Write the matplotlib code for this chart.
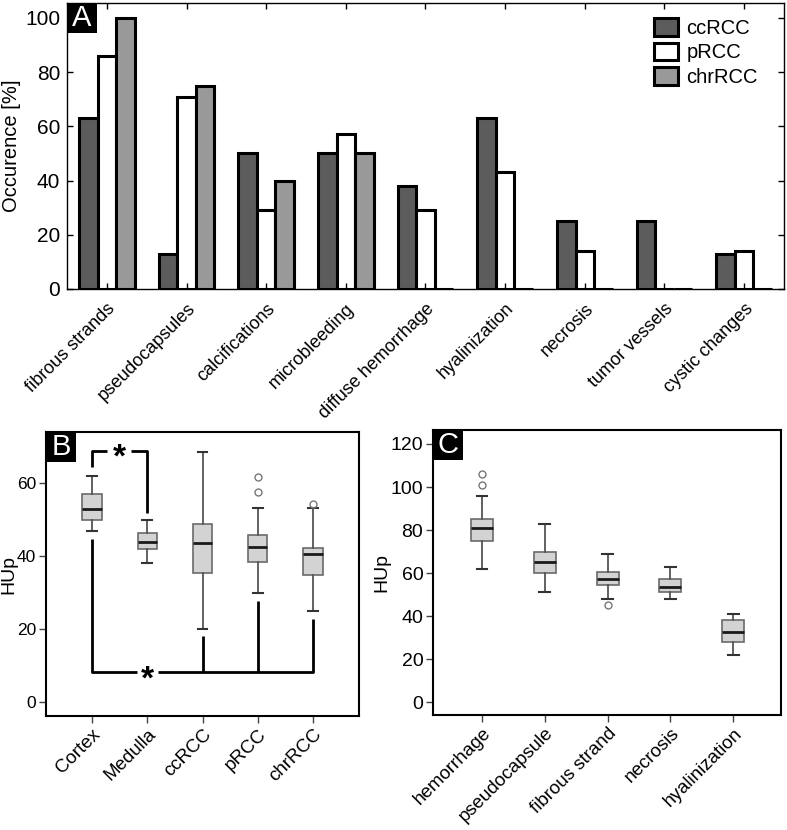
import matplotlib.pyplot as plt
import numpy as np
from matplotlib.patches import Rectangle

plt.rcParams['font.family'] = ['Liberation Sans', 'DejaVu Sans']

# Panel A: occurrence of imaging features [%]
features = ["fibrous strands", "pseudocapsules", "calcifications", "microbleeding",
            "diffuse hemorrhage", "hyalinization", "necrosis", "tumor vessels", "cystic changes"]
occ_ccrcc = [63, 13, 50, 50, 38, 63, 25, 25, 13]
occ_prcc = [86, 71, 29, 57, 29, 43, 14, 0, 14]
occ_chrrcc = [100, 75, 40, 50, 0, 0, 0, 0, 0]

# Panel B: HUp per tissue (whisker low, q1, median, q3, whisker high, outliers)
tissues = ["Cortex", "Medulla", "ccRCC", "pRCC", "chrRCC"]
tis_lo = [47, 38, 20, 30, 25]
tis_q1 = [50, 42, 35.5, 38.4, 34.7]
tis_med = [53, 43.9, 43.7, 42.4, 40.6]
tis_q3 = [57, 46.2, 48.9, 45.8, 42.1]
tis_hi = [62, 50, 68.6, 53.3, 53.3]
tis_out = [[], [], [], [57.7, 61.6], [54.4]]

# Panel C: HUp per finding
findings = ["hemorrhage", "pseudocapsule", "fibrous strand", "necrosis", "hyalinization"]
fnd_lo = [62, 51.1, 47.9, 48, 22.1]
fnd_q1 = [75.1, 60.1, 54.5, 51, 28]
fnd_med = [81.1, 65.1, 57.2, 53.6, 32.6]
fnd_q3 = [85, 69.9, 60.5, 57.1, 38]
fnd_hi = [96, 83, 69, 62.9, 41]
fnd_out = [[101, 106], [], [45.1], [], []]

fig = plt.figure(figsize=(7.87, 8.30), dpi=100)


def panel_label(ax, letter):
    # 30x30 px black square in the upper left corner
    pos = ax.get_position()
    w = 30 / (pos.width * 787)
    h = 30 / (pos.height * 830)
    ax.add_patch(Rectangle((0, 1 - h), w, h, transform=ax.transAxes,
                           facecolor='black', edgecolor='none', zorder=10, clip_on=False))
    ax.text(w / 2, 1 - h / 2, letter, transform=ax.transAxes, color='white',
            fontsize=21, ha='center', va='center', zorder=11)


# ---- A: grouped bars (MATLAB look) ----
axA = fig.add_axes([67 / 787, 1 - 289 / 830, 717 / 787, 286 / 830])
x = np.arange(1, len(features) + 1)
bw = 0.232
axA.bar(x - bw, occ_ccrcc, bw, color='#5c5c5c', edgecolor='black', linewidth=2.2, label='ccRCC')
axA.bar(x, occ_prcc, bw, color='white', edgecolor='black', linewidth=2.2, label='pRCC')
axA.bar(x + bw, occ_chrrcc, bw, color='#999999', edgecolor='black', linewidth=2.2, label='chrRCC')
axA.set_xlim(0.5, 9.5)
axA.set_ylim(0, 105.5)
axA.set_yticks([0, 20, 40, 60, 80, 100])
axA.set_xticks(x)
axA.set_xticklabels(features, rotation=45, ha='right', rotation_mode='anchor', fontsize=13)
axA.tick_params(axis='both', direction='in', top=True, right=True, length=4, width=1)
axA.tick_params(axis='y', labelsize=15, pad=5)
axA.tick_params(axis='x', pad=8)
axA.set_ylabel('Occurence [%]', fontsize=14.5, labelpad=3)
for s in axA.spines.values():
    s.set_linewidth(1)
axA.legend(loc='upper right', bbox_to_anchor=(0.975, 0.975), frameon=False, fontsize=14.5,
           handlelength=1.2, handleheight=0.95, handletextpad=0.4, labelspacing=0.25,
           borderaxespad=0)
panel_label(axA, 'A')


def boxes(ax, lo, q1, med, q3, hi, out):
    stats = []
    for i in range(len(med)):
        stats.append(dict(whislo=lo[i], q1=q1[i], med=med[i], q3=q3[i], whishi=hi[i],
                          fliers=out[i]))
    ax.bxp(stats, positions=range(1, len(med) + 1), widths=0.35, patch_artist=True,
           boxprops=dict(facecolor='#d3d3d3', edgecolor='#6a6a6a', linewidth=1.2),
           medianprops=dict(color='#1a1a1a', linewidth=2),
           whiskerprops=dict(color='#555555', linewidth=1.3),
           capprops=dict(color='#333333', linewidth=1.5), capwidths=0.17,
           flierprops=dict(marker='o', markerfacecolor='none', markeredgecolor='#777777',
                           markersize=5, markeredgewidth=1))


def style_box_axes(ax, names, labelsize):
    for s in ax.spines.values():
        s.set_linewidth(1.5)
    ax.set_xticks(range(1, len(names) + 1))
    ax.set_xticklabels(names, rotation=45, ha='right', rotation_mode='anchor', fontsize=13.5)
    ax.tick_params(axis='both', direction='out', length=5, width=1, color='#444444')
    ax.tick_params(axis='y', labelsize=labelsize, pad=2)
    ax.tick_params(axis='x', pad=2)
    ax.set_ylabel('HUp', fontsize=14, labelpad=0)


def star(ax, xs, ys, pxunit):
    # bold asterisk centred on (xs, ys)
    fs = 24
    off = 0.46 * fs * 100 / 72 / pxunit
    ax.text(xs, ys - off, '*', fontsize=fs, fontweight='bold', ha='center', va='baseline')


# ---- B ----
axB = fig.add_axes([46 / 787, 1 - 716 / 830, 313 / 787, 284 / 830])
boxes(axB, tis_lo, tis_q1, tis_med, tis_q3, tis_hi, tis_out)
axB.set_xlim(0.17, 5.83)
axB.set_ylim(-3.8, 74)
axB.set_yticks([0, 20, 40, 60])
style_box_axes(axB, tissues, 12.5)
# significance brackets
kw = dict(color='black', linewidth=2, solid_capstyle='butt')
axB.plot([1, 1, 1.27], [64.4, 68.8, 68.8], **kw)
axB.plot([1.70, 2, 2], [68.8, 68.8, 51.8], **kw)
axB.plot([1, 1, 1.81], [44.7, 8.2, 8.2], **kw)
axB.plot([2.19, 5, 5], [8.2, 8.2, 22.7], **kw)
axB.plot([3, 3], [8.2, 18.1], **kw)
axB.plot([4, 4], [8.2, 27.7], **kw)
star(axB, 1.49, 68.6, 284 / 77.8)
star(axB, 2.0, 7.9, 284 / 77.8)
panel_label(axB, 'B')

# ---- C ----
axC = fig.add_axes([433 / 787, 1 - 715 / 830, 348 / 787, 285 / 830])
boxes(axC, fnd_lo, fnd_q1, fnd_med, fnd_q3, fnd_hi, fnd_out)
axC.set_xlim(0.22, 5.76)
axC.set_ylim(-6, 126.5)
axC.set_yticks([0, 20, 40, 60, 80, 100, 120])
style_box_axes(axC, findings, 14)
panel_label(axC, 'C')

fig.savefig('out.png', dpi=100)
